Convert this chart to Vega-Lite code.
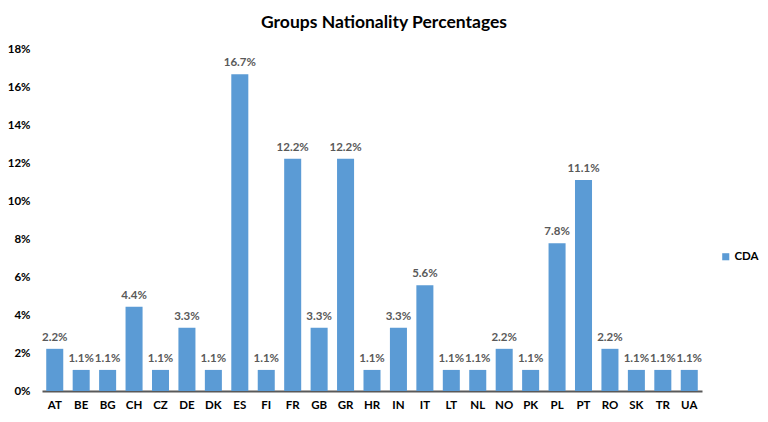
{
  "$schema": "https://vega.github.io/schema/vega-lite/v6.json",
  "width": 660,
  "height": 342,
  "autosize": "none",
  "padding": {"left": 42, "top": 49, "right": 66, "bottom": 31},
  "background": "white",
  "title": {
    "text": "Groups Nationality Percentages",
    "font": "Lato",
    "fontSize": 17.5,
    "fontWeight": "bold",
    "color": "#000000",
    "offset": 12,
    "dx": 12
  },
  "data": {
    "values": [
      {"country": "AT", "pct": 0.0222, "series": "CDA"},
      {"country": "BE", "pct": 0.0111, "series": "CDA"},
      {"country": "BG", "pct": 0.0111, "series": "CDA"},
      {"country": "CH", "pct": 0.0444, "series": "CDA"},
      {"country": "CZ", "pct": 0.0111, "series": "CDA"},
      {"country": "DE", "pct": 0.0333, "series": "CDA"},
      {"country": "DK", "pct": 0.0111, "series": "CDA"},
      {"country": "ES", "pct": 0.1667, "series": "CDA"},
      {"country": "FI", "pct": 0.0111, "series": "CDA"},
      {"country": "FR", "pct": 0.1222, "series": "CDA"},
      {"country": "GB", "pct": 0.0333, "series": "CDA"},
      {"country": "GR", "pct": 0.1222, "series": "CDA"},
      {"country": "HR", "pct": 0.0111, "series": "CDA"},
      {"country": "IN", "pct": 0.0333, "series": "CDA"},
      {"country": "IT", "pct": 0.0556, "series": "CDA"},
      {"country": "LT", "pct": 0.0111, "series": "CDA"},
      {"country": "NL", "pct": 0.0111, "series": "CDA"},
      {"country": "NO", "pct": 0.0222, "series": "CDA"},
      {"country": "PK", "pct": 0.0111, "series": "CDA"},
      {"country": "PL", "pct": 0.0778, "series": "CDA"},
      {"country": "PT", "pct": 0.1111, "series": "CDA"},
      {"country": "RO", "pct": 0.0222, "series": "CDA"},
      {"country": "SK", "pct": 0.0111, "series": "CDA"},
      {"country": "TR", "pct": 0.0111, "series": "CDA"},
      {"country": "UA", "pct": 0.0111, "series": "CDA"}
    ]
  },
  "encoding": {
    "x": {
      "field": "country",
      "type": "nominal",
      "sort": null,
      "scale": {"paddingInner": 0.356, "paddingOuter": 0.16},
      "axis": {
        "title": null,
        "labelAngle": 0,
        "labelFont": "Lato",
        "labelFontSize": 11.5,
        "labelFontWeight": "bold",
        "labelColor": "#000000",
        "labelPadding": 8,
        "ticks": false,
        "domainColor": "#595959",
        "domainWidth": 2
      }
    },
    "y": {
      "field": "pct",
      "type": "quantitative",
      "scale": {"domain": [0, 0.18]},
      "axis": {
        "title": null,
        "format": ".0%",
        "values": [0, 0.02, 0.04, 0.06, 0.08, 0.1, 0.12, 0.14, 0.16, 0.18],
        "grid": false,
        "domain": false,
        "ticks": false,
        "labelFont": "Lato",
        "labelFontSize": 11.5,
        "labelFontWeight": "bold",
        "labelColor": "#000000",
        "labelPadding": 12
      }
    }
  },
  "layer": [
    {
      "mark": {"type": "bar", "color": "#5B9BD5"},
      "encoding": {
        "color": {
          "field": "series",
          "type": "nominal",
          "scale": {"range": ["#5B9BD5"]},
          "legend": {
            "title": null,
            "orient": "none",
            "legendX": 678,
            "legendY": 202,
            "symbolType": "square",
            "symbolSize": 50,
            "symbolStrokeWidth": 0,
            "labelFont": "Lato",
            "labelFontSize": 11.5,
            "labelFontWeight": "bold",
            "labelColor": "#000000",
            "labelOffset": 3
          }
        }
      }
    },
    {
      "mark": {
        "type": "text",
        "baseline": "bottom",
        "dy": -6,
        "font": "Lato",
        "fontSize": 11.5,
        "fontWeight": "bold",
        "color": "#595959"
      },
      "encoding": {
        "text": {"field": "pct", "type": "quantitative", "format": ".1%"}
      }
    }
  ],
  "config": {
    "view": {"stroke": null}
  }
}
